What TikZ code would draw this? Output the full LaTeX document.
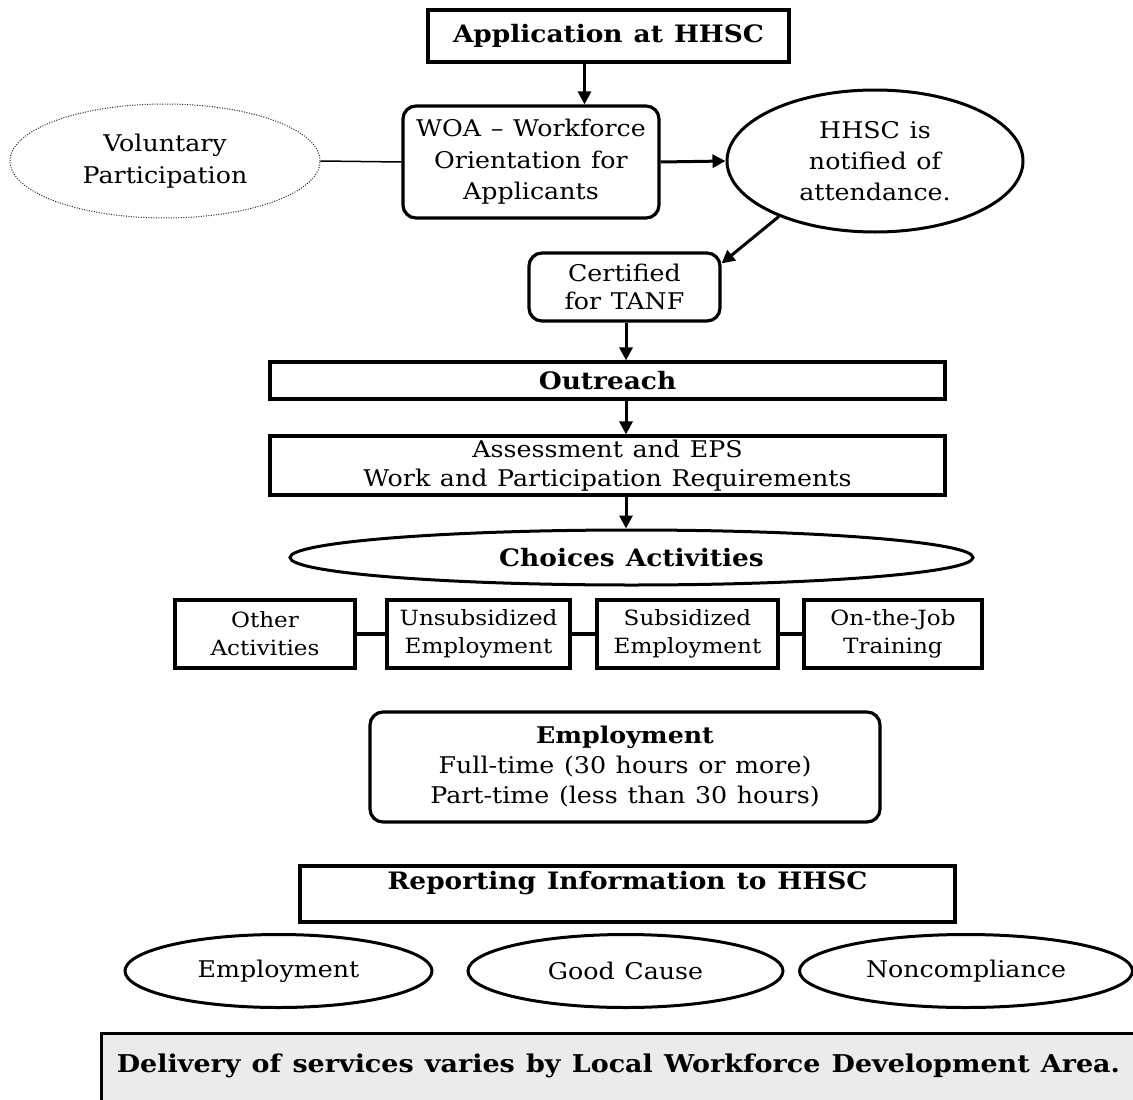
\documentclass[tikz,border=0pt]{standalone}
\usepackage{fontspec}
\setmainfont[FakeStretch=1.1,WordSpace=1.2]{DejaVu Serif}
\usetikzlibrary{shapes.geometric,arrows.meta}
\begin{document}
\begin{tikzpicture}[x=1pt,y=-1pt,
  box/.style={draw,line width=3.2pt,rectangle,align=center,inner sep=0pt},
  rbox/.style={box,rounded corners=13pt},
  ell/.style={draw,line width=3pt,ellipse,inner sep=0pt,align=center},
  arr/.style={line width=3pt,-{Triangle[length=13pt,width=13pt]}},
  link/.style={line width=4pt},
  txt/.style={font=\fontsize{23}{31.5}\selectfont},
  btxt/.style={font=\bfseries\fontsize{24}{30}\selectfont},
  smalltxt/.style={font=\fontsize{21}{28}\selectfont},
]
\useasboundingbox (0,0) rectangle (1133,1100);

\node[box,minimum width=361pt,minimum height=52pt,btxt] (app) at (608.5,36) {Application at HHSC};
\node[rbox,minimum width=256pt,minimum height=112pt,txt] (woa) at (531,162) {WOA -- Workforce\\Orientation for\\Applicants};
\node[ellipse,draw,dash pattern=on 1pt off 1.5pt,line width=1pt,draw=black!85,minimum width=310pt,minimum height=114pt,inner sep=0pt,align=center,txt] (vol) at (165,161) {Voluntary\\Participation};
\node[ell,minimum width=296pt,minimum height=142pt,txt,font=\fontsize{23}{31}\selectfont] (hhsc) at (875,161) {HHSC is\\notified of\\attendance.};
\node[rbox,minimum width=191pt,minimum height=68pt,font=\fontsize{23}{28}\selectfont] (cert) at (624.5,287) {Certified\\for TANF};
\node[box,minimum width=675pt,minimum height=37pt,btxt] (out) at (607.5,380.5) {Outreach};
\node[box,minimum width=675pt,minimum height=59pt,font=\fontsize{23}{29}\selectfont] (ass) at (607.5,465.5) {Assessment and EPS\\Work and Participation Requirements};
\node[ell,minimum width=683pt,minimum height=55pt,btxt] (cho) at (631.5,557.5) {Choices Activities};

\node[box,minimum width=180pt,minimum height=68pt,smalltxt] (oth) at (265,634) {Other\\Activities};
\node[box,minimum width=183pt,minimum height=68pt,smalltxt] (uns) at (478.5,634) {Unsubsidized\\Employment};
\node[box,minimum width=181pt,minimum height=68pt,smalltxt] (sub) at (687.5,634) {Subsidized\\Employment};
\node[box,minimum width=178pt,minimum height=68pt,smalltxt] (ojt) at (893,634) {On-the-Job\\Training};

\node[rbox,minimum width=510pt,minimum height=110pt,font=\fontsize{23}{30}\selectfont] (emp) at (625,767) {\textbf{Employment}\\Full-time (30 hours or more)\\Part-time (less than 30 hours)};

\node[box,minimum width=655pt,minimum height=56pt,font=\bfseries\fontsize{24}{28}\selectfont] (rep) at (627.5,894) {Reporting Information to HHSC\\\mbox{}};

\node[ell,minimum width=307pt,minimum height=73pt,txt] (e1) at (278.5,971) {Employment};
\node[ell,minimum width=315pt,minimum height=73pt,txt] (e2) at (625.5,971) {Good Cause};
\node[ell,minimum width=333pt,minimum height=73pt,txt] (e3) at (966,971) {Noncompliance};

\node[box,fill=black!8,minimum width=1040pt,minimum height=80pt,anchor=north west] (del) at (100,1032) {};
\node[font=\bfseries\fontsize{24.5}{28}\selectfont] (deltxt) at (618.5,1066) {Delivery of services varies by Local Workforce Development Area.};

\draw[arr] ([xshift=-24pt]app.south) -- ([xshift=-24pt]app.south |- woa.north);
\draw[line width=1.5pt] (vol.east) -- (woa.west);
\draw[arr] (woa.east) -- (hhsc.west);
\draw[arr] (hhsc.210) -- ([yshift=-12pt]cert.north east);
\draw[arr] ([xshift=1.5pt]cert.south) -- ([xshift=1.5pt]cert.south |- out.north);
\draw[arr] ([xshift=18.5pt]out.south) -- ([xshift=18.5pt]out.south |- ass.north);
\draw[arr] ([xshift=18.5pt]ass.south) -- ([xshift=18.5pt]ass.south |- cho.north);
\draw[link] (oth.east) -- (uns.west);
\draw[link] (uns.east) -- (sub.west);
\draw[link] (sub.east) -- (ojt.west);
\end{tikzpicture}
\end{document}
